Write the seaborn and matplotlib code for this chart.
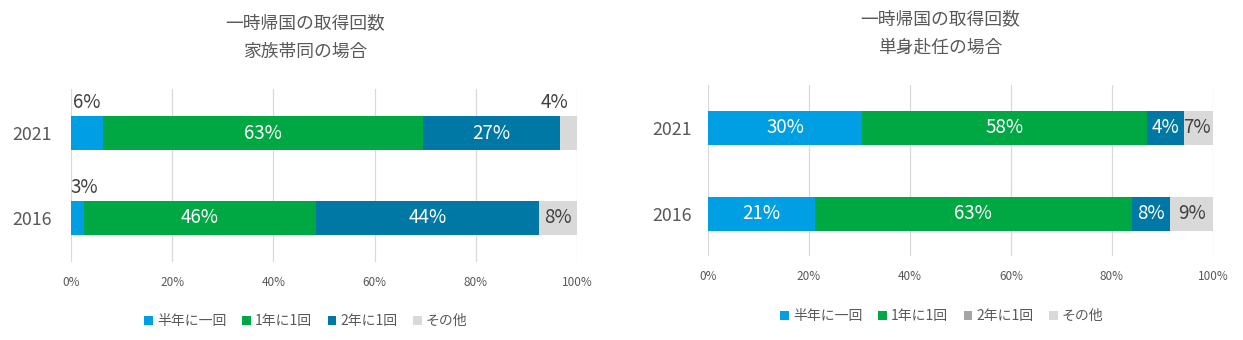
import numpy as np
import pandas as pd
import matplotlib
matplotlib.use("Agg")
import matplotlib.pyplot as plt
from matplotlib.patches import Patch
import seaborn as sns

sns.set_theme(style="white")
plt.rcParams['font.family'] = ['Noto Sans CJK JP', 'DejaVu Sans']

# ---------------- data ----------------
years = ["2021", "2016"]
categories = ["半年に一回", "1年に1回", "2年に1回", "その他"]

# segment widths (%)
family_2021 = [6.3, 63.2, 27.1, 3.4]
family_2016 = [2.5, 46.0, 43.9, 7.6]
single_2021 = [30.5, 56.5, 7.3, 5.7]
single_2016 = [21.2, 62.7, 7.6, 8.5]

# printed data labels
family_labels_2021 = ["6%", "63%", "27%", "4%"]
family_labels_2016 = ["3%", "46%", "44%", "8%"]
single_labels_2021 = ["30%", "58%", "4%", "7%"]
single_labels_2016 = ["21%", "63%", "8%", "9%"]

title_top = "一時帰国の取得回数"
title_family = "家族帯同の場合"
title_single = "単身赴任の場合"
x_ticks = [0, 20, 40, 60, 80, 100]
x_tick_labels = ["0%", "20%", "40%", "60%", "80%", "100%"]

# ---------------- style ----------------
colors = ["#009FE3", "#00A843", "#0078A6", "#D9D9D9"]
legend_colors_single = ["#009FE3", "#00A843", "#A5A5A5", "#D9D9D9"]
text_col = "#595959"
label_dark = "#404040"

fig = plt.figure(figsize=(12.43, 3.40), dpi=100)
W, H = 1243, 340


def make_ax(x0, x1, ytop, ybot):
    return fig.add_axes([x0 / W, 1 - ybot / H, (x1 - x0) / W, (ybot - ytop) / H])


def draw_panel(ax, rows, labels, placements, ylim, barh, ypad, legend_cols, legend_anchor):
    data = np.array(rows)
    cum = np.cumsum(data, axis=1)
    for i in reversed(range(len(categories))):
        df = pd.DataFrame({"year": years, "val": cum[:, i]})
        sns.barplot(data=df, x="val", y="year", order=years, orient="h",
                    color=colors[i], saturation=1, width=barh,
                    errorbar=None, ax=ax, linewidth=0)
    ax.set_xlim(0, 100)
    ax.set_ylim(*ylim)
    ax.set_xticks(x_ticks)
    ax.set_xticklabels(x_tick_labels, fontsize=8.5, color=text_col)
    ax.tick_params(axis="x", length=0, pad=10)
    ax.tick_params(axis="y", length=0, pad=ypad, labelsize=12.8, labelcolor=text_col)
    ax.set_xlabel("")
    ax.set_ylabel("")
    ax.grid(axis="x", color="#D9D9D9", linewidth=0.9)
    ax.grid(axis="y", visible=False)
    ax.set_axisbelow(True)
    for s in ax.spines.values():
        s.set_visible(False)
    # data labels
    for r in range(len(years)):
        starts = np.concatenate([[0], cum[r, :-1]])
        for c in range(len(categories)):
            mode, dx = placements[r][c]
            xc = starts[c] + data[r, c] / 2
            if mode == "above":
                ax.annotate(labels[r][c], (xc, r - barh / 2), xytext=(dx, 2),
                            textcoords="offset points", ha="center", va="bottom",
                            fontsize=13.5, color=label_dark)
            else:
                col = "white" if mode == "white" else label_dark
                ax.annotate(labels[r][c], (xc, r), xytext=(dx, 0),
                            textcoords="offset points", ha="center", va="center",
                            fontsize=13.5, color=col)
    handles = [Patch(facecolor=c, edgecolor="none") for c in legend_cols]
    fig.legend(handles, categories, loc="center", bbox_to_anchor=legend_anchor,
               ncol=4, frameon=False, fontsize=10, labelcolor=text_col,
               handlelength=0.6, handleheight=0.6, handletextpad=0.3,
               columnspacing=1.15)


# left panel: family
axL = make_ax(71, 577, 89, 262)
draw_panel(axL, [family_2021, family_2016], [family_labels_2021, family_labels_2016],
           [[("above", 0), ("white", 0), ("white", 0), ("above", -10)],
            [("above", 5), ("white", 0), ("white", 0), ("dark", 0)]],
           (1.52, -0.52), 0.4, 14, colors, (306 / W, 1 - 321 / H))

# right panel: single
axR = make_ax(708, 1213, 85, 256)
draw_panel(axR, [single_2021, single_2016], [single_labels_2021, single_labels_2016],
           [[("white", 0), ("white", 0), ("white", 0), ("dark", -1)],
            [("white", 0), ("white", 0), ("white", 0), ("dark", 0)]],
           (1.49, -0.5), 0.395, 12, legend_colors_single, (942 / W, 1 - 316 / H))

# titles
fig.text(305 / W, 1 - 23 / H, title_top, ha="center", va="center", fontsize=12.8, color=text_col)
fig.text(305 / W, 1 - 52 / H, title_family, ha="center", va="center", fontsize=12.8, color=text_col)
fig.text(940 / W, 1 - 19 / H, title_top, ha="center", va="center", fontsize=12.8, color=text_col)
fig.text(940 / W, 1 - 48 / H, title_single, ha="center", va="center", fontsize=12.8, color=text_col)

fig.savefig("out.png", dpi=100, facecolor="white")
